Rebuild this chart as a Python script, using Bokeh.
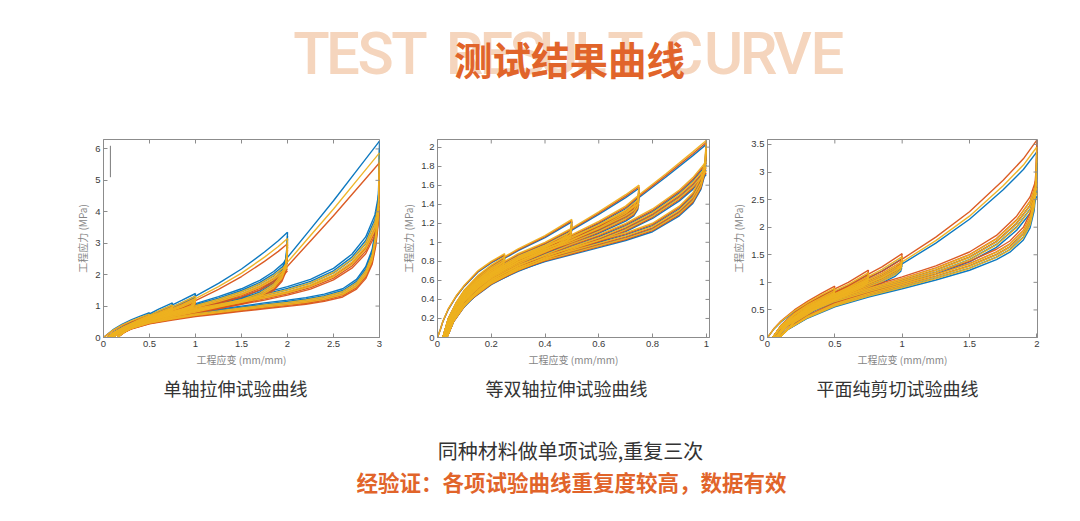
import math
from bokeh.plotting import figure
from bokeh.models import Range1d, FixedTicker
from bokeh.layouts import column, row
from bokeh.embed import file_html
from bokeh.resources import INLINE
from bokeh.core.properties import value

# ---------------- colours (MATLAB default order) ----------------
BLUE, RED, YELLOW = "#0072BD", "#D95319", "#EDB120"
SERIES_COLORS = [BLUE, RED, YELLOW]

# ---------------- texts ----------------
title_cn = "测试结果曲线"
title_en_letters = list("TESTRESULTCURVE")
title_en_x = [311, 342.5, 375, 409, 464, 496, 527, 558, 590, 625, 683, 723, 758, 792, 827]
captions = ["单轴拉伸试验曲线", "等双轴拉伸试验曲线", "平面纯剪切试验曲线"]
caption_x = [235, 566, 897]
note_line1 = "同种材料做单项试验,重复三次"
note_line2 = "经验证：各项试验曲线重复度较高，数据有效"
x_label = "工程应变 (mm/mm)"
y_label = "工程应力 (MPa)"

# ---------------- uniaxial tension (blue specimen) ----------------
uni_xticks = [0, 0.5, 1, 1.5, 2, 2.5, 3]
uni_xtick_labels = ["0", "0.5", "1", "1.5", "2", "2.5", "3"]
uni_yticks = [0, 1, 2, 3, 4, 5, 6]
uni_ytick_labels = ["0", "1", "2", "3", "4", "5", "6"]
uni_spec = [1.0, 0.89, 0.94]      # blue, red, yellow peak ratios
uni_cycles = [1.0, 0.965, 0.935]
uni_mark_x = [0.075, 0.075]
uni_mark_y = [5.1, 6.1]

uni_v1_x = [0, 0.05, 0.1, 0.2, 0.3, 0.4, 0.5]
uni_v1_y = [0, 0.12, 0.24, 0.42, 0.56, 0.68, 0.79]
uni_u1_x = [0.5, 0.49, 0.45, 0.35, 0.25, 0.15, 0.08, 0.04]
uni_u1_y = [0.79, 0.68, 0.6, 0.47, 0.34, 0.2, 0.08, 0]
uni_r1_x = [0.04, 0.1, 0.2, 0.3, 0.4, 0.5]
uni_r1_y = [0, 0.15, 0.33, 0.48, 0.62, 0.75]

uni_v2_x = [0.5, 0.6, 0.75]
uni_v2_y = [0.75, 0.9, 1.1]
uni_u2_x = [0.75, 0.74, 0.7, 0.6, 0.45, 0.3, 0.15, 0.06]
uni_u2_y = [1.1, 0.95, 0.88, 0.76, 0.6, 0.42, 0.2, 0]
uni_r2_x = [0.06, 0.15, 0.3, 0.45, 0.6, 0.75]
uni_r2_y = [0, 0.22, 0.46, 0.66, 0.84, 1.04]

uni_v3_x = [0.75, 0.85, 1.0]
uni_v3_y = [1.04, 1.18, 1.4]
uni_u3_x = [1.0, 0.99, 0.95, 0.85, 0.7, 0.5, 0.3, 0.15, 0.08]
uni_u3_y = [1.4, 1.2, 1.08, 0.95, 0.8, 0.6, 0.36, 0.15, 0]
uni_r3_x = [0.08, 0.2, 0.35, 0.5, 0.7, 0.85, 1.0]
uni_r3_y = [0, 0.28, 0.52, 0.7, 0.92, 1.1, 1.32]

uni_v4_x = [1.0, 1.25, 1.5, 1.75, 1.9, 2.0]
uni_v4_y = [1.32, 1.72, 2.18, 2.72, 3.08, 3.35]
uni_u4_x = [2.0, 1.995, 1.98, 1.94, 1.85, 1.7, 1.5, 1.25, 1.0, 0.75, 0.5, 0.3, 0.15, 0.1]
uni_u4_y = [3.35, 2.9, 2.5, 2.15, 1.8, 1.5, 1.28, 1.1, 0.92, 0.75, 0.55, 0.34, 0.12, 0]
uni_r4_x = [0.1, 0.25, 0.5, 0.75, 1.0, 1.25, 1.5, 1.7, 1.85, 1.95, 2.0]
uni_r4_y = [0, 0.33, 0.64, 0.88, 1.08, 1.3, 1.55, 1.82, 2.1, 2.35, 2.55]

uni_v5_x = [2.0, 2.25, 2.5, 2.75, 3.0]
uni_v5_y = [2.55, 3.45, 4.35, 5.3, 6.25]
uni_u5_x = [3.0, 2.995, 2.985, 2.96, 2.92, 2.85, 2.75, 2.6, 2.4, 2.2, 2.0, 1.75, 1.5, 1.25, 1.0, 0.75, 0.5, 0.3, 0.2, 0.15]
uni_u5_y = [6.25, 5.2, 4.3, 3.5, 2.8, 2.25, 1.85, 1.55, 1.38, 1.27, 1.19, 1.1, 1.0, 0.9, 0.8, 0.67, 0.52, 0.32, 0.15, 0]
uni_r5_x = [0.15, 0.3, 0.5, 0.75, 1.0, 1.25, 1.5, 1.75, 2.0, 2.25, 2.5, 2.7, 2.85, 2.95, 3.0]
uni_r5_y = [0, 0.38, 0.62, 0.82, 0.98, 1.12, 1.27, 1.43, 1.62, 1.85, 2.2, 2.65, 3.2, 3.9, 4.7]

# ---------------- equibiaxial tension (yellow specimen) ----------------
bi_xticks = [0, 0.2, 0.4, 0.6, 0.8, 1]
bi_xtick_labels = ["0", "0.2", "0.4", "0.6", "0.8", "1"]
bi_yticks = [0, 0.2, 0.4, 0.6, 0.8, 1, 1.2, 1.4, 1.6, 1.8, 2]
bi_ytick_labels = ["0", "0.2", "0.4", "0.6", "0.8", "1", "1.2", "1.4", "1.6", "1.8", "2"]
bi_spec = [0.98, 0.99, 1.0]
bi_cycles = [1.0, 0.97, 0.945]

bi_v1_x = [0.0, 0.01, 0.02, 0.04, 0.07, 0.1, 0.15, 0.2, 0.25]
bi_v1_y = [0, 0.08, 0.17, 0.3, 0.44, 0.55, 0.7, 0.8, 0.88]
bi_u1_x = [0.25, 0.245, 0.23, 0.2, 0.15, 0.1, 0.06, 0.035, 0.02]
bi_u1_y = [0.88, 0.8, 0.76, 0.7, 0.6, 0.47, 0.3, 0.12, 0]
bi_r1_x = [0.02, 0.04, 0.07, 0.1, 0.15, 0.2, 0.25]
bi_r1_y = [0, 0.2, 0.37, 0.5, 0.65, 0.76, 0.85]

bi_v2_x = [0.25, 0.3, 0.4, 0.5]
bi_v2_y = [0.85, 0.93, 1.07, 1.24]
bi_u2_x = [0.5, 0.495, 0.48, 0.45, 0.4, 0.3, 0.2, 0.12, 0.07, 0.04, 0.025]
bi_u2_y = [1.24, 1.12, 1.07, 1.02, 0.96, 0.84, 0.68, 0.5, 0.32, 0.14, 0]
bi_r2_x = [0.025, 0.05, 0.1, 0.15, 0.2, 0.3, 0.4, 0.5]
bi_r2_y = [0, 0.22, 0.45, 0.6, 0.72, 0.88, 1.0, 1.15]

bi_v3_x = [0.5, 0.6, 0.7, 0.75]
bi_v3_y = [1.15, 1.32, 1.5, 1.6]
bi_u3_x = [0.75, 0.745, 0.73, 0.7, 0.6, 0.5, 0.4, 0.3, 0.2, 0.12, 0.07, 0.04, 0.03]
bi_u3_y = [1.6, 1.45, 1.38, 1.32, 1.18, 1.06, 0.96, 0.84, 0.67, 0.48, 0.3, 0.12, 0]
bi_r3_x = [0.03, 0.06, 0.1, 0.15, 0.2, 0.3, 0.4, 0.5, 0.6, 0.7, 0.75]
bi_r3_y = [0, 0.22, 0.4, 0.55, 0.66, 0.82, 0.95, 1.08, 1.22, 1.38, 1.5]

bi_v4_x = [0.75, 0.85, 0.95, 1.0]
bi_v4_y = [1.5, 1.72, 1.95, 2.07]
bi_u4_x = [1.0, 0.995, 0.98, 0.95, 0.9, 0.8, 0.7, 0.6, 0.5, 0.4, 0.3, 0.2, 0.12, 0.07, 0.045, 0.035]
bi_u4_y = [2.07, 1.85, 1.68, 1.52, 1.38, 1.2, 1.1, 1.02, 0.94, 0.86, 0.76, 0.6, 0.42, 0.25, 0.1, 0]
bi_r4_x = [0.035, 0.06, 0.1, 0.15, 0.2, 0.3, 0.4, 0.5, 0.6, 0.7, 0.8, 0.9, 0.95, 1.0]
bi_r4_y = [0, 0.18, 0.35, 0.5, 0.61, 0.75, 0.87, 0.98, 1.08, 1.2, 1.35, 1.55, 1.68, 1.85]

# ---------------- planar (pure) shear (red specimen) ----------------
ps_xticks = [0, 0.5, 1, 1.5, 2]
ps_xtick_labels = ["0", "0.5", "1", "1.5", "2"]
ps_yticks = [0, 0.5, 1, 1.5, 2, 2.5, 3, 3.5]
ps_ytick_labels = ["0", "0.5", "1", "1.5", "2", "2.5", "3", "3.5"]
ps_spec = [0.94, 1.0, 0.965]
ps_cycles = [1.0, 0.97, 0.94]

ps_v1_x = [0, 0.05, 0.1, 0.2, 0.3, 0.4, 0.5]
ps_v1_y = [0, 0.17, 0.3, 0.5, 0.66, 0.8, 0.93]
ps_u1_x = [0.5, 0.49, 0.45, 0.35, 0.25, 0.15, 0.08, 0.04]
ps_u1_y = [0.93, 0.83, 0.76, 0.62, 0.47, 0.3, 0.14, 0]
ps_r1_x = [0.04, 0.1, 0.2, 0.3, 0.4, 0.5]
ps_r1_y = [0, 0.22, 0.45, 0.62, 0.75, 0.88]

ps_v2_x = [0.5, 0.6, 0.75]
ps_v2_y = [0.88, 1.0, 1.22]
ps_u2_x = [0.75, 0.74, 0.7, 0.6, 0.45, 0.3, 0.15, 0.06]
ps_u2_y = [1.22, 1.08, 1.0, 0.88, 0.7, 0.5, 0.26, 0]
ps_r2_x = [0.06, 0.15, 0.3, 0.45, 0.6, 0.75]
ps_r2_y = [0, 0.3, 0.57, 0.76, 0.94, 1.15]

ps_v3_x = [0.75, 0.85, 1.0]
ps_v3_y = [1.15, 1.28, 1.52]
ps_u3_x = [1.0, 0.99, 0.95, 0.85, 0.7, 0.5, 0.3, 0.15, 0.07]
ps_u3_y = [1.52, 1.36, 1.26, 1.12, 0.96, 0.75, 0.5, 0.24, 0]
ps_r3_x = [0.07, 0.15, 0.3, 0.5, 0.7, 0.85, 1.0]
ps_r3_y = [0, 0.28, 0.56, 0.82, 1.03, 1.2, 1.42]

ps_v4_x = [1.0, 1.25, 1.5, 1.75, 1.9, 2.0]
ps_v4_y = [1.42, 1.82, 2.28, 2.85, 3.24, 3.58]
ps_u4_x = [2.0, 1.995, 1.98, 1.95, 1.9, 1.8, 1.7, 1.5, 1.25, 1.0, 0.75, 0.5, 0.3, 0.15, 0.09]
ps_u4_y = [3.58, 3.05, 2.6, 2.25, 2.0, 1.75, 1.6, 1.38, 1.18, 1.0, 0.83, 0.63, 0.4, 0.16, 0]
ps_r4_x = [0.09, 0.2, 0.35, 0.5, 0.75, 1.0, 1.25, 1.5, 1.7, 1.85, 1.95, 2.0]
ps_r4_y = [0, 0.3, 0.55, 0.72, 0.92, 1.1, 1.3, 1.55, 1.85, 2.2, 2.55, 2.9]

uni_levels = [
    (uni_v1_x, uni_v1_y, uni_u1_x, uni_u1_y, uni_r1_x, uni_r1_y),
    (uni_v2_x, uni_v2_y, uni_u2_x, uni_u2_y, uni_r2_x, uni_r2_y),
    (uni_v3_x, uni_v3_y, uni_u3_x, uni_u3_y, uni_r3_x, uni_r3_y),
    (uni_v4_x, uni_v4_y, uni_u4_x, uni_u4_y, uni_r4_x, uni_r4_y),
    (uni_v5_x, uni_v5_y, uni_u5_x, uni_u5_y, uni_r5_x, uni_r5_y),
]
bi_levels = [
    (bi_v1_x, bi_v1_y, bi_u1_x, bi_u1_y, bi_r1_x, bi_r1_y),
    (bi_v2_x, bi_v2_y, bi_u2_x, bi_u2_y, bi_r2_x, bi_r2_y),
    (bi_v3_x, bi_v3_y, bi_u3_x, bi_u3_y, bi_r3_x, bi_r3_y),
    (bi_v4_x, bi_v4_y, bi_u4_x, bi_u4_y, bi_r4_x, bi_r4_y),
]
ps_levels = [
    (ps_v1_x, ps_v1_y, ps_u1_x, ps_u1_y, ps_r1_x, ps_r1_y),
    (ps_v2_x, ps_v2_y, ps_u2_x, ps_u2_y, ps_r2_x, ps_r2_y),
    (ps_v3_x, ps_v3_y, ps_u3_x, ps_u3_y, ps_r3_x, ps_r3_y),
    (ps_v4_x, ps_v4_y, ps_u4_x, ps_u4_y, ps_r4_x, ps_r4_y),
]

FRAME = "#8c8c8c"
CJK = "Noto Sans CJK SC"


def style_axis(ax):
    ax.axis_line_color = FRAME
    ax.major_tick_line_color = FRAME
    ax.minor_tick_line_color = None
    ax.major_tick_in = 4
    ax.major_tick_out = 0
    ax.major_label_text_font = "Liberation Sans"
    ax.major_label_text_font_size = "9.5px"
    ax.major_label_text_color = "#3a3a3a"
    ax.major_label_standoff = 3
    ax.axis_label_text_font = CJK
    ax.axis_label_text_font_size = "10px"
    ax.axis_label_text_font_style = "normal"
    ax.axis_label_text_color = "#858585"
    ax.axis_label_standoff = 2


def make_plot(width, bl, br, xr, yr, xt, xl, yt, yl, levels, spec, cycles):
    p = figure(width=width, height=236, x_range=Range1d(*xr), y_range=Range1d(*yr),
               output_backend="svg", toolbar_location=None,
               min_border_left=bl, min_border_right=br, min_border_top=6, min_border_bottom=30,
               x_axis_label=x_label, y_axis_label=y_label)
    p.grid.visible = False
    p.outline_line_color = FRAME
    p.background_fill_color = "white"
    p.border_fill_color = "white"
    p.xaxis.ticker = FixedTicker(ticks=xt)
    p.yaxis.ticker = FixedTicker(ticks=yt)
    p.xaxis.major_label_overrides = dict(zip(xt, xl))
    p.yaxis.major_label_overrides = dict(zip(yt, yl))
    style_axis(p.xaxis[0])
    style_axis(p.yaxis[0])

    for color, s in zip(SERIES_COLORS, spec):
        xs, ys = [], []
        for vx, vy, ux, uy, rx, ry in levels:
            xs.append(vx)
            ys.append([v * s for v in vy])
            for c in cycles:
                xs.append(ux)
                ys.append([v * s * c for v in uy])
                xs.append(rx)
                ys.append([v * s * c for v in ry])
        p.multi_line(xs, ys, line_color=color, line_width=1.4, line_alpha=0.95)

    # box ticks on the top and right edges (half of each dash is clipped by the frame)
    p.scatter(x=xt, y=[yr[1]] * len(xt), marker="dash", angle=math.pi / 2, size=8,
              line_color=FRAME, line_width=1)
    p.scatter(x=[xr[1]] * len(yt), y=yt, marker="dash", size=8, line_color=FRAME, line_width=1)
    return p


p1 = make_plot(398, 103, 19, (0, 3), (0, 6.3), uni_xticks, uni_xtick_labels,
               uni_yticks, uni_ytick_labels, uni_levels, uni_spec, uni_cycles)
p1.line(uni_mark_x, uni_mark_y, line_color="#7a7a7a", line_width=1)
p2 = make_plot(330, 35, 19, (0, 1.012), (0, 2.08), bi_xticks, bi_xtick_labels,
               bi_yticks, bi_ytick_labels, bi_levels, bi_spec, bi_cycles)
p3 = make_plot(352, 32, 43, (0, 2.005), (0, 3.59), ps_xticks, ps_xtick_labels,
               ps_yticks, ps_ytick_labels, ps_levels, ps_spec, ps_cycles)


def blank(height, y0, y1):
    f = figure(width=1080, height=height, x_range=Range1d(0, 1080), y_range=Range1d(y1, y0),
               output_backend="svg", toolbar_location=None, min_border=0)
    f.axis.visible = False
    f.grid.visible = False
    f.outline_line_color = None
    f.background_fill_color = "white"
    f.border_fill_color = "white"
    return f


top = blank(133, 0, 133)
top.text(x=title_en_x, y=[53] * len(title_en_letters), text=title_en_letters,
         text_font=value("Roboto Medium, Roboto"), text_font_style="normal",
         text_font_size="60px", text_color="#F5D5BD",
         text_align="center", text_baseline="middle")
top.text(x=[569], y=[57], text=[title_cn], text_font=value(CJK), text_font_style="bold",
         text_font_size="38.5px", text_color="#E1642A", text_align="center", text_baseline="middle")

bottom = blank(152, 369, 521)
bottom.text(x=caption_x, y=[387] * 3, text=captions, text_font=value(CJK),
            text_font_size="18px", text_color="#333333", text_align="center", text_baseline="middle")
bottom.text(x=[570], y=[450], text=[note_line1], text_font=value(CJK),
            text_font_size="20px", text_color="#333333", text_align="center", text_baseline="middle")
bottom.text(x=[571], y=[481], text=[note_line2], text_font=value(CJK), text_font_style="bold",
            text_font_size="21.5px", text_color="#E1642A", text_align="center", text_baseline="middle")

layout = column(top, row(p1, p2, p3), bottom)
open("out.html", "w").write(file_html(layout, INLINE))
